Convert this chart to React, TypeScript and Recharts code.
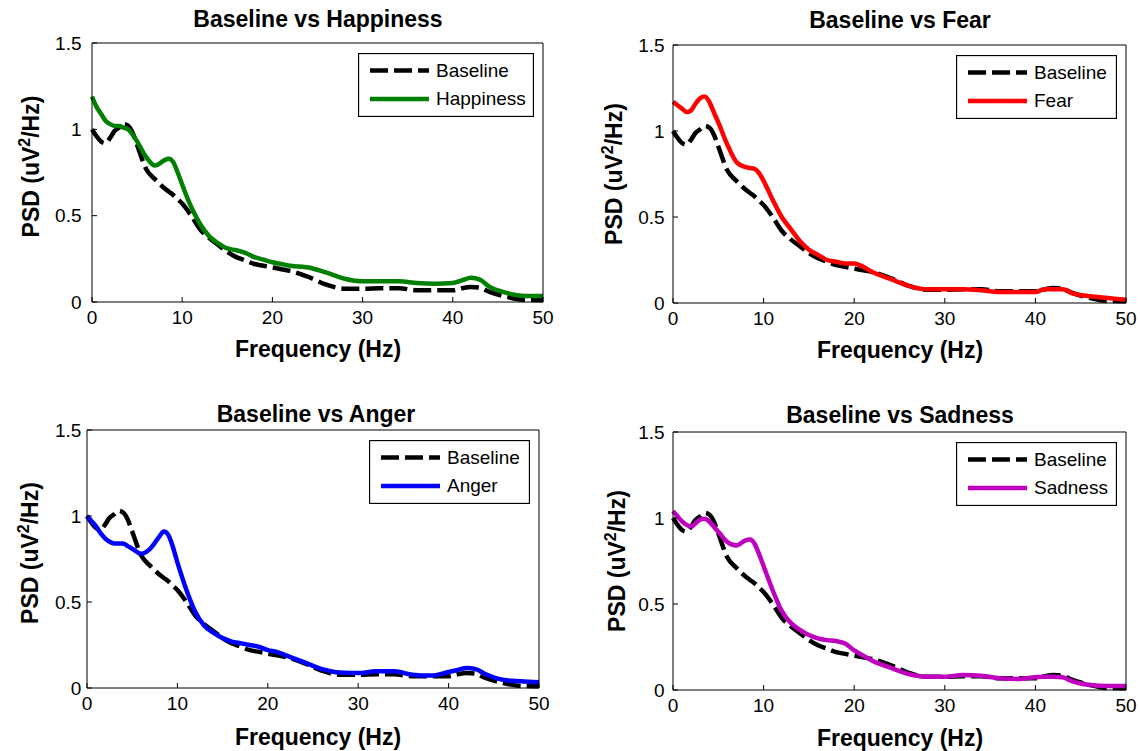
import React from 'react';
import { LineChart, Line, XAxis, YAxis } from 'recharts';

// frequency grid (Hz) shared by every curve
const freq = [0, 0.5, 1, 1.5, 2, 2.5, 3, 3.5, 4, 4.5, 5, 6, 7, 8, 8.5, 9, 9.5, 10, 11, 12, 13, 14, 15, 16, 17, 18, 19, 20, 21, 22, 24, 26, 28, 30, 32, 34, 36, 38, 40, 41, 42, 43, 44, 46, 48, 50];

const baseline = [1.0, 0.96, 0.93, 0.92, 0.95, 0.99, 1.01, 1.03, 1.02, 0.98, 0.91,
  0.77, 0.71, 0.66,
  0.64, 0.62, 0.595, 0.57,
  0.5, 0.42, 0.37, 0.33, 0.29, 0.26, 0.24, 0.22, 0.21, 0.2, 0.19, 0.18,
  0.145, 0.1, 0.077, 0.077, 0.08, 0.08, 0.068, 0.068, 0.068,
  0.08, 0.087, 0.083, 0.06,
  0.03, 0.012, 0.01];

const happiness = [1.19, 1.13, 1.09, 1.05, 1.03, 1.02, 1.02, 1.01, 1.0, 0.97, 0.93,
  0.84, 0.79, 0.82,
  0.83, 0.81, 0.75, 0.68,
  0.55, 0.45, 0.38, 0.34, 0.31, 0.3, 0.285, 0.26, 0.245, 0.23, 0.22, 0.21,
  0.2, 0.17, 0.135, 0.12, 0.12, 0.12, 0.11, 0.106, 0.11,
  0.125, 0.14, 0.13, 0.09,
  0.052, 0.035, 0.035];

const fear = [1.17, 1.15, 1.13, 1.11, 1.12, 1.16, 1.19, 1.2, 1.17, 1.11, 1.05,
  0.92, 0.82, 0.79,
  0.785, 0.78, 0.755, 0.71,
  0.6, 0.5, 0.43, 0.36, 0.31, 0.28, 0.25, 0.24, 0.23, 0.23, 0.21, 0.18,
  0.14, 0.1, 0.08, 0.08, 0.08, 0.074, 0.064, 0.064, 0.064,
  0.08, 0.08, 0.08, 0.058,
  0.039, 0.029, 0.019];

const anger = [1.0, 0.97, 0.94, 0.9, 0.87, 0.85, 0.84, 0.84, 0.84, 0.825, 0.81,
  0.78, 0.81, 0.88,
  0.91, 0.89, 0.82, 0.73,
  0.57, 0.44, 0.36, 0.32, 0.29, 0.27, 0.26, 0.25, 0.24, 0.22, 0.21, 0.19,
  0.15, 0.11, 0.09, 0.087, 0.097, 0.097, 0.077, 0.072, 0.093,
  0.105, 0.116, 0.11, 0.083,
  0.048, 0.039, 0.033];

const sadness = [1.04, 1.01, 0.98, 0.96, 0.95, 0.97, 0.99, 0.995, 0.98, 0.95, 0.92,
  0.86, 0.84, 0.87,
  0.875, 0.85, 0.79, 0.72,
  0.58, 0.46, 0.39, 0.35, 0.32, 0.3, 0.29, 0.285, 0.27, 0.23, 0.2, 0.17,
  0.13, 0.093, 0.077, 0.077, 0.087, 0.083, 0.068, 0.064, 0.074,
  0.077, 0.077, 0.074, 0.052,
  0.029, 0.023, 0.023];

const xTicks = [0, 10, 20, 30, 40, 50];
const yTicks = [0, 0.5, 1, 1.5];

const FONT = "'Liberation Sans', Arial, Helvetica, sans-serif";
const YW = 80; // left axis band
const MT = 40; // room above the plot for the title
const XH = 75; // bottom axis band
const MR = 24; // room for the last x tick label
const axisStroke = { stroke: '#000', strokeWidth: 1 };
const tickStyle = { fill: '#000', fontSize: 19, fontFamily: FONT };
const dash = '18 6';
const LW = 4.5;

type PanelProps = {
  title: string;
  name: string;
  color: string;
  values: number[];
  plotLeft: number;
  plotTop: number;
  plotW: number;
  plotH: number;
  tickGap: number;
  yLabelX: number;
  yLabelDy: number;
  titleX: number;
  titleY: number;
  xLabelX: number;
  xLabelY: number;
  legendW: number;
};

const Panel: React.FC<PanelProps> = (p) => {
  const data = freq.map((f, i) => ({ f, baseline: baseline[i], emotion: p.values[i] }));
  const chartLeft = p.plotLeft - YW;
  const chartTop = p.plotTop - MT - 1;
  const width = YW + p.plotW + 1 + MR;
  const height = MT + 1 + p.plotH + XH;
  const cx = (x: number) => x - chartLeft;
  const cy = (y: number) => y - chartTop;
  const legLeft = p.plotLeft + p.plotW - 9 - p.legendW;
  const legTop = p.plotTop + 10;

  return (
    <div style={{ position: 'absolute', left: chartLeft, top: chartTop }}>
      <LineChart width={width} height={height} data={data} margin={{ top: MT, right: MR, bottom: 0, left: 0 }}>
        <XAxis
          dataKey="f"
          type="number"
          domain={[0, 50]}
          ticks={xTicks}
          interval={0}
          height={XH}
          tickSize={-5}
          tickMargin={14}
          axisLine={axisStroke}
          tickLine={axisStroke}
          tick={tickStyle}
          label={{
            content: () => (
              <text x={cx(p.xLabelX)} y={cy(p.xLabelY)} textAnchor="middle" fontFamily={FONT} fontSize={23} fontWeight="bold" fill="#000">
                Frequency (Hz)
              </text>
            ),
          }}
        />
        <XAxis
          xAxisId="top"
          orientation="top"
          type="number"
          domain={[0, 50]}
          ticks={xTicks}
          interval={0}
          height={1}
          tickSize={-5}
          axisLine={axisStroke}
          tickLine={axisStroke}
          tick={false}
          label={{
            content: () => (
              <text x={cx(p.titleX)} y={cy(p.titleY)} textAnchor="middle" fontFamily={FONT} fontSize={23} fontWeight="bold" fill="#000">
                {p.title}
              </text>
            ),
          }}
        />
        <YAxis
          type="number"
          domain={[0, 1.5]}
          ticks={yTicks}
          interval={0}
          width={YW}
          tickSize={-5}
          tickMargin={5 + p.tickGap}
          axisLine={axisStroke}
          tickLine={axisStroke}
          tick={tickStyle}
          label={{
            content: () => (
              <text
                transform={`translate(${cx(p.plotLeft + p.yLabelX)},${cy(p.plotTop + p.plotH / 2 + p.yLabelDy)}) rotate(-90)`}
                textAnchor="middle"
                fontFamily={FONT}
                fontSize={23}
                fontWeight="bold"
                fill="#000"
              >
                PSD (uV<tspan fontSize={16} dy={-9}>2</tspan>
                <tspan dy={9}>/Hz)</tspan>
              </text>
            ),
          }}
        />
        <YAxis
          yAxisId="right"
          orientation="right"
          type="number"
          domain={[0, 1.5]}
          ticks={yTicks}
          interval={0}
          width={1}
          tickSize={-5}
          axisLine={axisStroke}
          tickLine={axisStroke}
          tick={false}
        />
        <Line dataKey="baseline" type="monotone" stroke="#000" strokeWidth={LW} strokeDasharray={dash} dot={false} activeDot={false} isAnimationActive={false} />
        <Line dataKey="emotion" type="monotone" stroke={p.color} strokeWidth={LW} dot={false} activeDot={false} isAnimationActive={false} />
      </LineChart>
      <svg width={p.legendW} height={64} style={{ position: 'absolute', left: cx(legLeft), top: cy(legTop) }}>
        <rect x={0.5} y={0.5} width={p.legendW - 1} height={63} fill="#fff" stroke="#000" strokeWidth={1.3} />
        <line x1={12} x2={71} y1={17.5} y2={17.5} stroke="#000" strokeWidth={LW} strokeDasharray={dash} />
        <line x1={12} x2={71} y1={46} y2={46} stroke={p.color} strokeWidth={LW} />
        <text x={78} y={23.5} fontFamily={FONT} fontSize={19} fill="#000">Baseline</text>
        <text x={78} y={52} fontFamily={FONT} fontSize={19} fill="#000">{p.name}</text>
      </svg>
    </div>
  );
};

export default function App() {
  return (
    <div style={{ position: 'absolute', left: 0, top: 0, width: 1140, height: 751, background: '#fff', overflow: 'hidden' }}>
      <Panel title="Baseline vs Happiness" name="Happiness" color="#008000" values={happiness}
        plotLeft={92} plotTop={43} plotW={451} plotH={259} tickGap={10.5} yLabelX={-53} yLabelDy={-6}
        titleX={318} titleY={27} xLabelX={318} xLabelY={357} legendW={176} />
      <Panel title="Baseline vs Fear" name="Fear" color="#ff0000" values={fear}
        plotLeft={673} plotTop={45} plotW={453} plotH={258} tickGap={8.3} yLabelX={-51} yLabelDy={0}
        titleX={900} titleY={28} xLabelX={900} xLabelY={358} legendW={161} />
      <Panel title="Baseline vs Anger" name="Anger" color="#0000ff" values={anger}
        plotLeft={87} plotTop={430} plotW={452} plotH={258} tickGap={5.6} yLabelX={-49} yLabelDy={-6}
        titleX={316} titleY={422} xLabelX={318} xLabelY={745} legendW={161} />
      <Panel title="Baseline vs Sadness" name="Sadness" color="#bf00bf" values={sadness}
        plotLeft={673} plotTop={432} plotW={453} plotH={258} tickGap={8.3} yLabelX={-48} yLabelDy={0}
        titleX={900} titleY={423} xLabelX={900} xLabelY={746} legendW={161} />
    </div>
  );
}
